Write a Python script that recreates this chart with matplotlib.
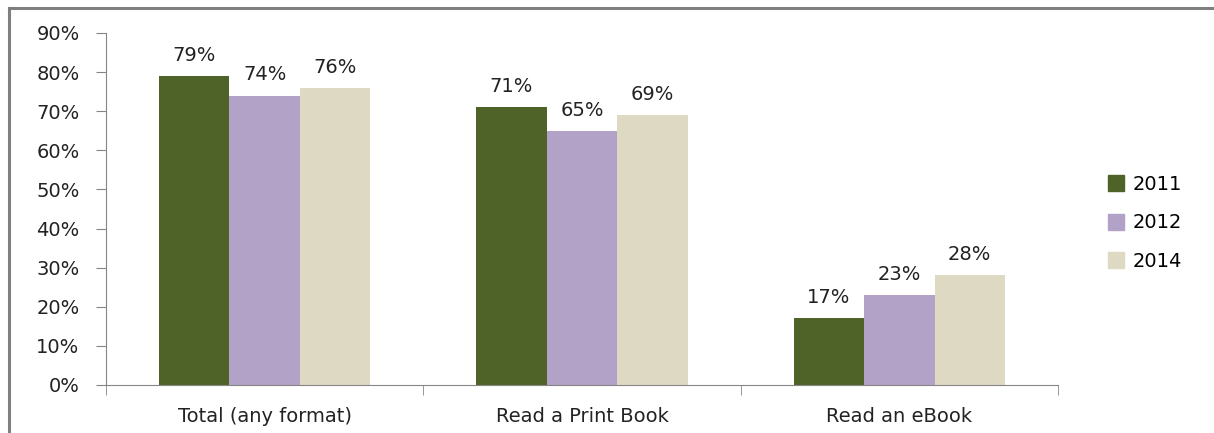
import numpy as np
import matplotlib.pyplot as plt
from matplotlib.lines import Line2D

# data
categories = ["Total (any format)", "Read a Print Book", "Read an eBook"]
years = ["2011", "2012", "2014"]
vals_2011 = [79, 71, 17]
vals_2012 = [74, 65, 23]
vals_2014 = [76, 69, 28]
colors = ["#4F6228", "#B3A2C7", "#DDD9C3"]

plt.rcParams['font.family'] = ['DejaVu Sans']
fs = 14

fig = plt.figure(figsize=(12.14, 4.33), dpi=100)
ax = fig.add_axes([0.0873, 0.1109, 0.7842, 0.8129])

x = np.arange(len(categories))
w = 0.222
series = [vals_2011, vals_2012, vals_2014]
for i, (vals, c, yr) in enumerate(zip(series, colors, years)):
    pos = x + (i - 1) * w
    bars = ax.bar(pos, np.array(vals) / 100, width=w, color=c, label=yr)
    for b, v in zip(bars, vals):
        ax.annotate(f"{v}%", (b.get_x() + b.get_width() / 2, b.get_height()),
                    xytext=(0, 8), textcoords="offset points",
                    ha="center", va="bottom", fontsize=fs, color="#222222")

ax.set_xlim(-0.5, 2.5)
ax.set_ylim(0, 0.9)
ticks = np.arange(0, 0.91, 0.1)
ax.set_yticks(ticks)
ax.set_yticklabels([f"{int(round(t*100))}%" for t in ticks])
ax.set_xticks(x)
ax.set_xticklabels(categories)
ax.set_xticks([-0.5, 0.5, 1.5, 2.5], minor=True)
ax.tick_params(axis="x", which="major", length=0, pad=16, labelsize=fs, colors="#222222")
ax.tick_params(axis="x", which="minor", length=7, color="#868686", direction="out")
ax.tick_params(axis="y", length=7, direction="out", labelsize=fs,
               colors="#222222", pad=12)
ax.tick_params(axis="y", color="#868686")
for s in ["top", "right"]:
    ax.spines[s].set_visible(False)
for s in ["left", "bottom"]:
    ax.spines[s].set_color("#868686")

handles = [Line2D([], [], marker="s", ls="", markersize=11, color=c) for c in colors]
fig.legend(handles, years, loc="center left", bbox_to_anchor=(0.897, 0.485),
           frameon=False, fontsize=fs, handletextpad=0.35, labelspacing=1.0,
           handlelength=1.0)

# outer border (left and top, as in the cropped original)
fig.add_artist(Line2D([0.0072, 0.0072], [0, 0.981], transform=fig.transFigure,
                      color="#7F7F7F", lw=2.2))
fig.add_artist(Line2D([0.0072, 1.0], [0.981, 0.981], transform=fig.transFigure,
                      color="#7F7F7F", lw=2.2))

fig.savefig("out.png", dpi=100)
